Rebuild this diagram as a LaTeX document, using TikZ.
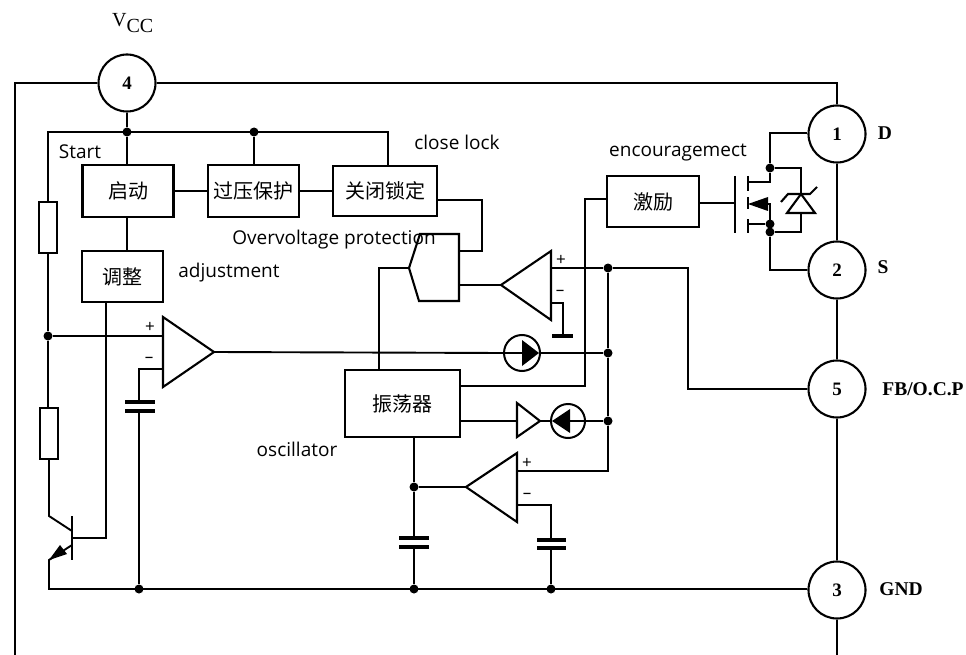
\documentclass[tikz,border=0pt]{standalone}
\usepackage{fontspec}
\setmainfont{Liberation Serif}
\newfontfamily\cjk{Noto Sans CJK SC}
\newfontfamily\lab{Open Sans}
\begin{document}
\begin{tikzpicture}[x=1pt,y=-1pt,
  wire/.style={line width=1.9pt,line join=miter},
  blk/.style={draw,line width=2.1pt,inner sep=0pt,font=\cjk\fontsize{20}{20}\selectfont},
  pin/.style={draw,circle,line width=2.1pt,minimum size=57pt,inner sep=0pt,font=\bfseries\fontsize{19}{19}\selectfont},
  pump/.style={draw,circle,line width=2pt,inner sep=0pt},
  dot/.style={circle,fill=black,inner sep=0pt,minimum size=9pt},
  res/.style={draw,line width=1.9pt,fill=white,inner sep=0pt,minimum width=18pt,minimum height=51pt},
  lbl/.style={font=\lab\fontsize{19}{19}\selectfont,inner sep=0pt},
  pinl/.style={font=\bfseries\fontsize{19.5}{19.5}\selectfont,inner sep=0pt},
  sgn/.style={font=\lab\fontsize{17}{17}\selectfont,inner sep=0pt},
  plate/.style={line width=3.4pt},
  amp/.style={line width=2.1pt,line join=miter}]
\useasboundingbox (0,0) rectangle (966,655);
% pins
\node[pin] (p4) at (127,83) {4};
\node[pin] (p1) at (837,134) {1};
\node[pin] (p2) at (837,270) {2};
\node[pin] (p5) at (837,389) {5};
\node[pin] (p3) at (837,590) {3};
% blocks
\node[blk,minimum width=91pt,minimum height=52pt] (start) at (128,191) {启动};
\node[blk,minimum width=91pt,minimum height=52pt] (ovp) at (253.5,191) {过压保护};
\node[blk,minimum width=104pt,minimum height=50pt] (lock) at (385,191) {关闭锁定};
\node[blk,minimum width=81pt,minimum height=51pt] (adj) at (122.5,276.5) {调整};
\node[blk,minimum width=92pt,minimum height=51pt] (drv) at (653,201.5) {激励};
\node[blk,minimum width=115pt,minimum height=67pt] (osc) at (402.5,403.5) {振荡器};
\node[res] (r1) at (48,227.5) {};
\node[res] (r2) at (49,433.5) {};
% junctions
\node[dot] (jtop) at (127,132) {};
\node[dot] (jovp) at (254,132) {};
\node[dot] (jl) at (48,336) {};
\node[dot] (jg1) at (139,589) {};
\node[dot] (jg2) at (414,589) {};
\node[dot] (jg3) at (551,589) {};
\node[dot] (jc) at (414,487) {};
\node[dot] (ja) at (608,268) {};
\node[dot] (jb) at (608,353) {};
\node[dot] (jd) at (608,421) {};
\node[dot] (jm1) at (770,168) {};
\node[dot] (jm2) at (770,224) {};
\node[dot] (jm3) at (770,232) {};
% helper coordinates
\coordinate (fl) at (15,83);
\coordinate (fb) at (15,655);
\coordinate (fr) at (837,655);
\coordinate (tl) at (48,132);
\coordinate (tr) at (388,132);
% op amps
\coordinate (a1t) at (163,317); \coordinate (a1b) at (163,387); \coordinate (a1o) at (214,352);
\coordinate (a2t) at (551,251); \coordinate (a2b) at (551,320); \coordinate (a2o) at (501,285);
\coordinate (a3t) at (517,453); \coordinate (a3b) at (517,522); \coordinate (a3o) at (466,487);
\coordinate (a4t) at (517,403); \coordinate (a4b) at (517,437); \coordinate (a4o) at (540,421);
\draw[amp] (a1t) -- (a1o) -- (a1b) -- cycle;
\draw[amp] (a2t) -- (a2o) -- (a2b) -- cycle;
\draw[amp] (a3t) -- (a3o) -- (a3b) -- cycle;
\draw[amp] (a4t) -- (a4o) -- (a4b) -- cycle;
% gate shape
\coordinate (g1) at (409,268); \coordinate (g2) at (420,234); \coordinate (g3) at (459,234);
\coordinate (g4) at (459,301); \coordinate (g5) at (419,301);
\draw[amp] (g1) -- (g2) -- (g3) -- (g4) -- (g5) -- cycle;
% frame
\draw[wire] (p4.west) -- (fl) -- (fb);
\draw[wire] (p4.east) -| (p1.north);
\draw[wire] (p1.south) -- (p2.north);
\draw[wire] (p2.south) -- (p5.north);
\draw[wire] (p5.south) -- (p3.north);
\draw[wire] (p3.south) -- (fr);
% top bus
\draw[wire] (p4.south) -- (jtop);
\draw[wire] (jtop) -- (jtop |- start.north);
\draw[wire] (jovp) -- (jovp |- ovp.north);
\draw[wire] (lock.north -| tr) -- (tr) -- (tl) -- (r1.north);
\draw[wire] (r1.south) -- (jl);
\draw[wire] (jl) -- (r2.north -| jl);
\draw[wire] (start.east) -- (ovp.west);
\draw[wire] (ovp.east) -- (lock.west);
\draw[wire] (start.south -| jtop) -- (adj.north -| jtop);
\coordinate (lk) at (482,200);
\coordinate (lk2) at (482,251);
\draw[wire] (lock.east |- lk) -- (lk) -- (lk2) -- (g3 |- lk2);
% amp 1
\draw[wire] (jl) -- (a1t |- jl);
\coordinate (m1) at (139,369);
\draw[wire] (a1t |- m1) -- (m1) -- (139,402);
\draw[wire] (139,411) -- (jg1);
\draw[plate] (125,402) -- (155,402);
\draw[plate] (125,411) -- (155,411);
% pump 1
\node[pump,minimum size=36pt] (d1) at (522,353) {};
\draw[wire] (a1o) -- (d1.west);
\draw[wire] (d1.east) -- (jb);
\fill (522,340) -- (539,353) -- (522,366) -- cycle;
\draw[wire] (d1.west) -- (522,353);
% adjust to transistor
\coordinate (bb) at (106,538);
\coordinate (tb) at (72,538);
\draw[wire] (adj.south -| bb) -- (bb) -- (tb);
\draw[line width=2.4pt] (72,516) -- (72,560);
\coordinate (tc) at (49,516);
\coordinate (te) at (49,560);
\draw[wire] (r2.south) -- (tc) -- (72,531);
\draw[wire] (72,545) -- (te) -- (49,589) -- (p3.west |- jg1);
\fill (49,560) -- (60,545) -- (67,554) -- cycle;
% gate in + comparator
\draw[wire] (g1) -- (379,268) -- (osc.north -| 379,0);
\draw[wire] (g4 |- a2o) -- (a2o);
\draw[wire] (a2t |- ja) -- (ja);
\coordinate (f1) at (688,268);
\draw[wire] (ja) -- (f1) |- (p5.west);
\coordinate (gnd) at (563,303);
\draw[wire] (a2t |- gnd) -- (gnd) -- (563,336);
\draw[plate] (552,336) -- (573,336);
% rails x=585, x=608
\coordinate (v1) at (585,199);
\coordinate (v2) at (585,386);
\draw[wire] (drv.west |- v1) -- (v1) -- (v2) -- (osc.east |- v2);
\draw[wire] (ja) -- (jb) -- (jd) -- (608,471) -- (a3t |- 608,471);
% osc chain
\draw[wire] (osc.east |- jd) -- (a4t |- jd);
\node[pump,minimum size=34pt] (d2) at (568,421) {};
\draw[wire] (a4o) -- (d2.west);
\draw[wire] (d2.center) -- (jd);
\fill (552,421) -- (570,409) -- (570,433) -- cycle;
\draw[wire] (osc.south -| jc) -- (jc) -- (414,538);
\draw[wire] (414,547) -- (jg2);
\draw[plate] (399,538) -- (429,538);
\draw[plate] (399,547) -- (429,547);
\draw[wire] (jc) -- (a3o);
\coordinate (m3) at (551,505);
\draw[wire] (a3t |- m3) -- (m3) -- (551,540);
\draw[wire] (551,548) -- (jg3);
\draw[plate] (537,540) -- (566,540);
\draw[plate] (537,548) -- (566,548);
% MOSFET
\coordinate (gate) at (735,203);
\draw[wire] (drv.east |- gate) -- (gate);
\draw[line width=2.4pt] (735,176) -- (735,233);
\draw[line width=2.4pt] (748,176) -- (748,191);
\draw[line width=2.4pt] (748,197) -- (748,209);
\draw[line width=2.4pt] (748,219) -- (748,233);
\coordinate (dr) at (770,133);
\draw[wire] (748,182) -- (770,182) -- (jm1) -- (dr) -- (p1.west |- dr);
\draw[wire] (748,224) -- (jm2);
\draw[wire] (jm1) -- (801,168) -- (801,194);
\draw[wire] (801,213) -- (801,232) -- (jm3);
\draw[wire] (762,204) -- (770,204) -- (jm3) -- (770,270) -- (p2.west);
\fill (748,204) -- (768,197) -- (768,211) -- cycle;
\draw[amp] (801,194) -- (787,213) -- (815,213) -- cycle;
\draw[amp] (781,202) -- (788,194) -- (810,194) -- (817,187);
% labels
\node[inner sep=0pt,anchor=base west] (vcc) at (112,27) {\fontsize{20}{20}\selectfont V\raisebox{-6pt}{CC}};
\node[lbl] (tstart) at (80,152) {Start};
\node[lbl] (tclose) at (457,142) {close lock};
\node[lbl] (tenc) at (678,153) {encouragemect};
\node[lbl] (tovp) at (334,240) {Overvoltage protection};
\node[lbl] (tadj) at (229,273) {adjustment};
\node[lbl] (tosc) at (297,449) {oscillator};
\node[pinl] (td) at (885,133) {D};
\node[pinl] (ts) at (883,267) {S};
\node[pinl] (tfb) at (923,389) {FB/O.C.P};
\node[pinl] (tgnd) at (901,589) {GND};
\node[sgn] at (150,327) {+};
\node[sgn] at (149,360) {–};
\node[sgn] at (561,260) {+};
\node[sgn] at (560,293) {–};
\node[sgn] at (527,463) {+};
\node[sgn] at (527,496) {–};
\end{tikzpicture}
\end{document}
